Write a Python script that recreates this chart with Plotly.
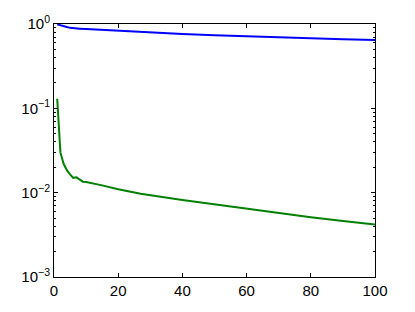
import plotly.graph_objects as go

# values
blue_x = [1, 2, 3, 4, 5, 6, 8, 10, 15, 20, 27, 40, 50, 61, 70, 80, 90, 100]
blue_y = [0.99, 0.96, 0.94, 0.92, 0.90, 0.89, 0.88, 0.87, 0.85, 0.83, 0.80,
          0.76, 0.735, 0.71, 0.69, 0.675, 0.66, 0.645]

green_x = [1, 2, 3, 4, 5, 6, 7, 8, 9, 10, 12, 15, 20, 27, 40, 50, 61, 70, 80, 90, 100]
green_y = [0.13, 0.030, 0.022, 0.0185, 0.0165, 0.015, 0.0152, 0.0143, 0.0135,
           0.0134, 0.013, 0.0122, 0.011, 0.0097, 0.0082, 0.0073, 0.0063,
           0.0057, 0.0051, 0.0046, 0.0042]

y_ticks = [1e-3, 1e-2, 1e-1, 1e0]
y_labels = ["10<sup>\u22123</sup>", "10<sup>\u22122</sup>", "10<sup>\u22121</sup>", "10<sup>0</sup>"]
x_ticks = [0, 20, 40, 60, 80, 100]

fig = go.Figure()
fig.add_trace(go.Scatter(x=blue_x, y=blue_y, mode="lines",
                         line=dict(color="#0000ff", width=2)))
fig.add_trace(go.Scatter(x=green_x, y=green_y, mode="lines",
                         line=dict(color="#008000", width=2)))

# the page body adds an 8px offset, so margins are shifted to compensate
fig.update_layout(
    width=415, height=312,
    margin=dict(l=46, r=48, t=16, b=43),
    paper_bgcolor="white", plot_bgcolor="white",
    showlegend=False,
    font=dict(family="Liberation Sans, Arial, sans-serif", size=15, color="black"),
)
fig.update_xaxes(
    range=[0, 100], tickvals=x_ticks, showgrid=False, zeroline=False,
    showline=True, linecolor="black", linewidth=1, mirror="ticks",
    ticks="inside", ticklen=4, tickcolor="black", automargin=False,
)
fig.update_yaxes(
    type="log", range=[-3, 0], tickvals=y_ticks, ticktext=y_labels,
    showgrid=False, zeroline=False, automargin=False,
    showline=True, linecolor="black", linewidth=1, mirror="ticks",
    ticks="inside", ticklen=4, tickcolor="black",
    minor=dict(ticks="inside", ticklen=2, tickcolor="black", showgrid=False,
               tickvals=[m * 10 ** e for e in (-3, -2, -1) for m in range(2, 10)]),
)

fig.write_html("out.html")
